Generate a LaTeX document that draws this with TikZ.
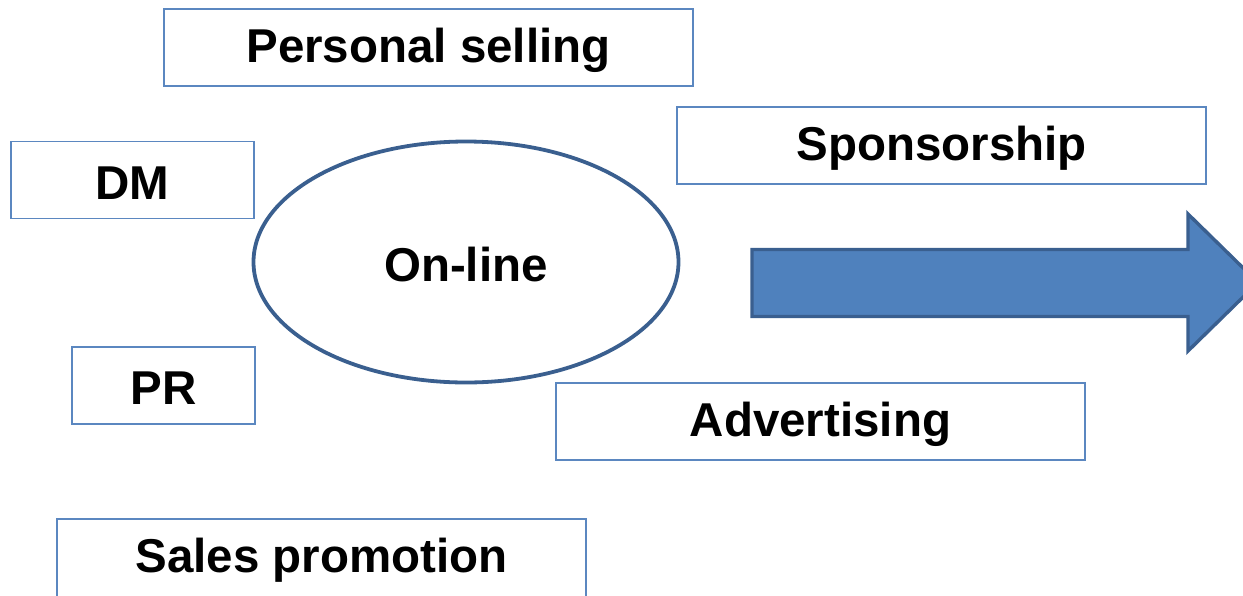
\documentclass[tikz,border=0pt]{standalone}
\usepackage{fontspec}
\setmainfont{Liberation Sans}
\usetikzlibrary{shapes.geometric}
\definecolor{boxblue}{HTML}{5B87C0}
\definecolor{darkblue}{HTML}{3A5F8F}
\definecolor{fillblue}{HTML}{4F81BD}
\begin{document}
\begin{tikzpicture}[x=1pt,y=-1pt,
  lbl/.style={font=\fontsize{47.5}{50}\selectfont\bfseries},
  tbox/.style={draw=boxblue,line width=1.5pt,fill=white},
]
\useasboundingbox (0,0) rectangle (1243,595);
\begin{scope}
\clip (0,0) rectangle (1243,595);
% boxes
\draw[tbox] (164,9) rectangle (693,86);
\node[lbl] (ps) at (428.5,50.5) {Personal selling};
\draw[tbox] (11,141.5) rectangle (254,218.5);
\node[lbl] (dm) at (132.5,183) {DM};
\draw[tbox] (677,107) rectangle (1206,184);
\node[lbl] (sp) at (941.5,148.5) {Sponsorship};
\draw[tbox] (72,347) rectangle (255,424);
\node[lbl] (pr) at (163.5,388.5) {PR};
\draw[tbox] (556,383) rectangle (1085,460);
\node[lbl] (ad) at (820.5,424.5) {Advertising};
\draw[tbox] (57,519) rectangle (586,605);
\node[lbl] (sa) at (321.5,560.5) {Sales promotion};
% ellipse
\draw[darkblue,line width=3.8pt] (466,262) ellipse [x radius=212.5,y radius=120.5];
\node[lbl] (on) at (466,265) {On-line};
% arrow
\draw[darkblue,line width=3.4pt,fill=fillblue,line join=miter]
  (752,249.5) -- (1188,249.5) -- (1188,214) -- (1258,282.5) -- (1188,351) -- (1188,316.5) -- (752,316.5) -- cycle;
\end{scope}
\end{tikzpicture}
\end{document}
